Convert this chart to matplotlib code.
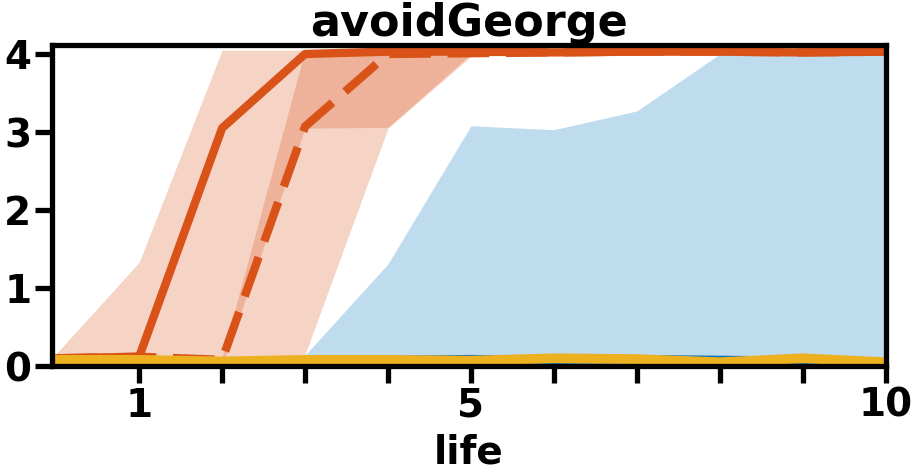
import numpy as np
import matplotlib
matplotlib.use('Agg')
import matplotlib.pyplot as plt

# MATLAB-style default colours
blue = '#0072BD'
orange = '#D95319'
yellow = '#EDB120'

life = [0, 1, 2, 3, 4, 5, 6, 7, 8, 9, 10]

solid_mean = [0.10, 0.12, 3.05, 4.00, 4.03, 4.03, 4.02, 4.03, 4.03, 4.02, 4.03]
solid_lo = [0.00, 0.00, 0.05, 0.15, 3.05, 3.97, 4.00, 4.00, 4.00, 4.00, 4.00]
solid_hi = [0.16, 1.33, 4.05, 4.05, 4.05, 4.05, 4.05, 4.05, 4.05, 4.05, 4.05]

dash_mean = [0.10, 0.12, 0.08, 3.07, 4.00, 4.01, 4.02, 4.03, 4.03, 4.02, 4.03]
dash_lo = [0.00, 0.00, 0.00, 3.05, 3.06, 4.00, 4.00, 4.00, 4.00, 4.00, 4.00]
dash_hi = [0.10, 0.12, 0.12, 4.05, 4.05, 4.05, 4.05, 4.05, 4.05, 4.05, 4.05]

blue_mean = [0.04, 0.06, 0.06, 0.07, 0.08, 0.09, 0.08, 0.09, 0.08, 0.07, 0.05]
blue_lo = [0.00, 0.00, 0.00, 0.00, 0.00, 0.00, 0.00, 0.00, 0.00, 0.00, 0.00]
blue_hi = [0.10, 0.10, 0.10, 0.14, 1.31, 3.08, 3.03, 3.27, 4.00, 4.00, 4.00]

yellow_mean = [0.08, 0.08, 0.06, 0.08, 0.08, 0.07, 0.10, 0.09, 0.05, 0.10, 0.05]

xticks = [1, 2, 3, 4, 5, 6, 7, 8, 9, 10]
xticklabels = ['1', '', '', '', '5', '', '', '', '', '10']
yticks = [0, 1, 2, 3, 4]

plt.rcParams['font.family'] = 'DejaVu Sans'
plt.rcParams['font.weight'] = 'bold'

fig = plt.figure(figsize=(9.14, 4.73), dpi=100)
ax = fig.add_axes([0.057, 0.226, 0.912, 0.678])

ax.fill_between(life, solid_lo, solid_hi, color=orange, alpha=0.25, lw=0)
ax.fill_between(life, dash_lo, dash_hi, color=orange, alpha=0.25, lw=0)
ax.fill_between(life, blue_lo, blue_hi, color=blue, alpha=0.25, lw=0)

lw = 6
ax.plot(life, blue_mean, color=blue, lw=lw)
ax.plot(life, dash_mean, color=orange, lw=lw, linestyle=(0, (5, 2)))
ax.plot(life, solid_mean, color=orange, lw=lw)
ax.plot(life, yellow_mean, color=yellow, lw=lw + 1)

ax.set_xlim(-0.05, 10)
ax.set_ylim(0, 4.11)
ax.set_xticks(xticks)
ax.set_xticklabels(xticklabels)
ax.set_yticks(yticks)

for side in ax.spines.keys():
    ax.spines[side].set_linewidth(3.8)
ax.tick_params(width=3.8, length=12, labelsize=28, pad=3)
for lab in ax.get_xticklabels() + ax.get_yticklabels():
    lab.set_fontweight('bold')

ax.set_xlabel('life', fontsize=28, fontweight='bold', labelpad=6)
ax.set_title('avoidGeorge', fontsize=32, fontweight='bold', pad=2)

fig.savefig('out.png', dpi=100)
